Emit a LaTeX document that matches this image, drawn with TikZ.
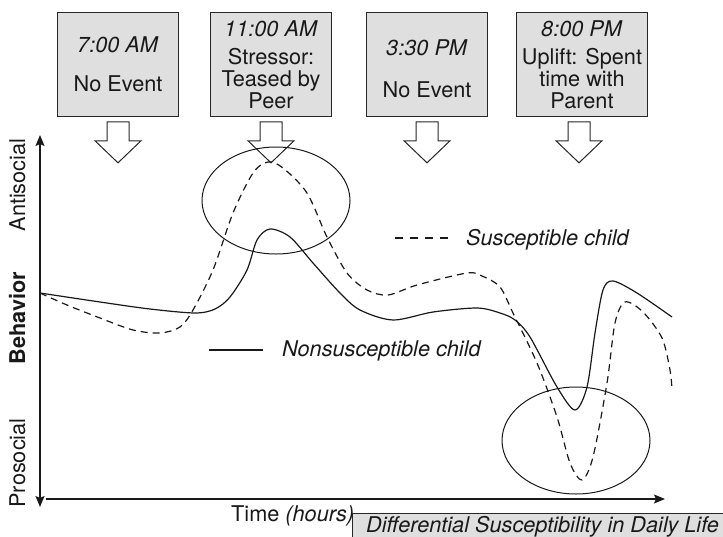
\documentclass[tikz,border=0pt]{standalone}
\usepackage{fontspec}
\setmainfont{TeX Gyre Heros}
\usetikzlibrary{arrows.meta,calc,shapes.geometric}
\tikzset{
  downarr/.pic={
    \draw[line width=1pt, draw=black!85] (-11,0) -- (-11,19) -- (-23,19) -- (0,41)
      -- (23,19) -- (11,19) -- (11,0) -- cycle;
  }
}

\begin{document}
\begin{tikzpicture}
[
x=1pt, y=-1pt,
evstyle/.style={rectangle, draw=black!85, fill=gray!25, line width=1pt, align=center, inner sep=0pt, minimum width=121pt, minimum height=104pt, text=black!90, font=\fontsize{21.7}{21.8}\selectfont},
lblstyle/.style={inner sep=0pt, text=black!90, font=\fontsize{21.7}{21.8}\selectfont},
axstyle/.style={line width=1.3pt, draw=black!90},
ovstyle/.style={ellipse, draw=black!90, line width=1pt, minimum width=148pt, minimum height=107pt, inner sep=0pt},
nscurve/.style={line width=1.2pt, draw=black!90},
scurve/.style={line width=1.2pt, draw=black!90, dash pattern=on 7pt off 5pt},
tip/.style={-{Stealth[length=11pt,width=9pt,inset=2pt]}}
]
\useasboundingbox (0,0) rectangle (723,536);

% events
\node (E1) [evstyle] at (118,64.3) {\textit{7:00 AM}\\[18pt]No Event};
\node (E2) [evstyle] at (271,64.3) {\textit{11:00 AM}\\[6.5pt]Stressor:\\Teased by\\Peer};
\node (E3) [evstyle] at (427,64.3) {\rule{0pt}{25pt}\textit{3:30 PM}\\[20pt]No Event};
\node (E4) [evstyle,minimum width=131pt] at (582,64.3) {\textit{8:00 PM}\\[6.5pt]Uplift: Spent\\time with\\Parent};

\pic at ([yshift=-5pt]E1.south) {downarr};
\pic at ([yshift=-5pt]E2.south) {downarr};
\pic at ([yshift=-5pt]E3.south) {downarr};
\pic at ([yshift=-5pt,xshift=-3pt]E4.south) {downarr};

% axes
\coordinate (Ytop) at (40,135);
\coordinate (Ybot) at (40,507);
\coordinate (Xbeg) at (46,499);
\coordinate (Xend) at (665,499);
\draw[axstyle,{Stealth[length=11pt,width=9pt,inset=2pt]}-{Stealth[length=11pt,width=9pt,inset=2pt]}] (Ybot) -- (Ytop);
\draw[axstyle,tip] (Xbeg) -- (Xend);

\node (AS) [lblstyle,rotate=90,anchor=base] at (25,185) {Antisocial};
\node (BH) [lblstyle,rotate=90,anchor=base] at (25,318) {\bfseries Behavior};
\node (PS) [lblstyle,rotate=90,anchor=base] at (25,463) {Prosocial};
\node (TM) [lblstyle,anchor=base west] at (231,521) {Time \textit{(hours)}};

% title strip
\fill[gray!25] (352,513) rectangle (730,540);
\draw[line width=1pt, draw=black!85] (352,540) |- (730,513);
\node (TT) [lblstyle,anchor=base west] at (366,532) {\textit{Differential Susceptibility in Daily Life}};

% curves
\draw[nscurve] plot[smooth] coordinates {(40,293) (100,302) (150,309) (195,313) (215,309) (230,297) (247,270) (257,240) (270,229) (290,237) (313,263) (340,293) (360,310) (393,320) (433,312) (477,308) (500,313) (515,320) (530,337) (557,387) (575,410) (587,387) (595,333) (603,290) (613,281) (637,293) (672,317)};
\draw[scurve] plot[smooth] coordinates {(40,293) (67,305) (100,318) (133,330) (160,333) (180,327) (193,310) (213,270) (233,213) (253,173) (268,162) (283,168) (307,193) (327,237) (347,273) (367,290) (388,295) (417,285) (467,273) (482,276) (500,287) (513,313) (537,363) (557,417) (570,463) (582,480) (593,457) (607,383) (615,323) (625,302) (643,312) (662,338) (670,370) (672,390)};

% highlights
\node (C1) [ovstyle] at (276,200.5) {};
\node (C2) [ovstyle] at (576,440.5) {};

% legend
\coordinate (L1a) at (395,238);
\coordinate (L1b) at (452,238);
\draw[scurve,dash pattern=on 8pt off 7pt] (L1a) -- (L1b);
\node (L1) [lblstyle,anchor=base west] at (466,245) {\textit{Susceptible child}};
\coordinate (L2a) at (209,350);
\coordinate (L2b) at (263,350);
\draw[nscurve] (L2a) -- (L2b);
\node (L2) [lblstyle,anchor=base west] at (282,356) {\textit{Nonsusceptible child}};
\end{tikzpicture}
\end{document}
